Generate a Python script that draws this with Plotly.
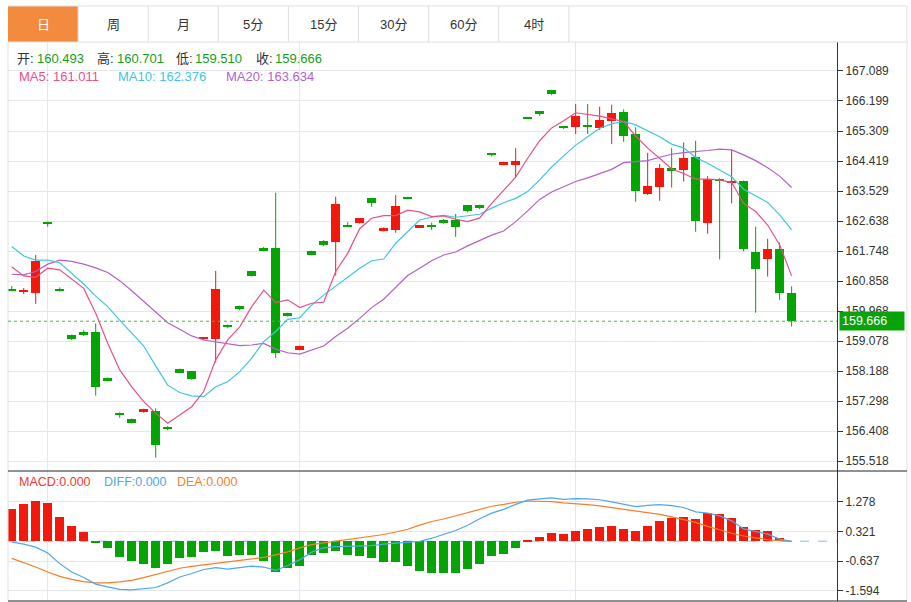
import plotly.graph_objects as go

# ---------------- data ----------------
opens = [160.60, 160.52, 160.51, 162.60, 160.62, 159.26, 159.35, 159.35, 157.97, 156.94,
         156.77, 156.97, 157.01, 156.53, 158.25, 158.18, 159.13, 159.13, 159.56, 160.12,
         161.15, 161.85, 161.84, 159.91, 158.81, 161.75, 162.06, 162.03, 162.52, 162.59,
         163.31, 162.37, 162.37, 163.35, 162.44, 162.52, 162.68, 162.67, 163.11, 163.11,
         164.65, 164.30, 164.29, 165.72, 165.89, 166.53, 165.46, 165.44, 165.46, 165.39,
         165.61, 165.86, 165.21, 163.45, 163.66, 164.20, 164.15, 164.53, 162.59, 163.89,
         163.77, 163.84, 161.73, 161.50, 161.80, 160.493]
highs = [160.71, 160.65, 161.63, 162.62, 160.67, 159.27, 159.40, 159.60, 158.00, 156.96,
         156.78, 157.07, 157.08, 156.55, 158.26, 158.19, 159.20, 161.16, 159.57, 160.13,
         161.16, 161.87, 163.48, 159.92, 158.94, 161.76, 162.07, 163.36, 162.60, 162.73,
         163.32, 162.45, 163.41, 163.36, 162.52, 162.59, 162.70, 162.85, 163.11, 163.12,
         164.65, 164.40, 164.80, 165.73, 165.90, 166.53, 165.46, 166.11, 166.11, 166.03,
         166.09, 165.95, 165.42, 164.66, 164.33, 164.80, 164.97, 165.02, 163.97, 163.91,
         164.75, 163.84, 162.47, 162.11, 162.00, 160.701]
lows = [160.56, 160.47, 160.18, 162.47, 160.55, 159.11, 159.23, 157.46, 157.89, 156.80,
        156.64, 156.95, 155.62, 156.43, 158.13, 157.93, 159.10, 158.44, 159.46, 159.99,
        160.99, 161.74, 158.57, 159.80, 158.80, 161.62, 161.89, 161.02, 162.47, 162.56,
        163.06, 162.33, 162.29, 163.29, 162.43, 162.37, 162.56, 162.17, 162.90, 162.99,
        164.56, 164.29, 163.94, 165.67, 165.76, 166.37, 165.37, 165.22, 165.22, 165.34,
        164.92, 164.99, 163.21, 163.41, 163.24, 163.63, 163.81, 162.32, 162.26, 161.50,
        163.16, 161.74, 159.92, 160.99, 160.30, 159.510]
closes = [160.58, 160.59, 161.46, 162.58, 160.60, 159.15, 159.26, 157.72, 157.92, 156.87,
          156.66, 157.05, 155.99, 156.47, 158.14, 157.94, 159.19, 160.63, 159.50, 160.02,
          161.01, 161.75, 158.72, 159.83, 158.92, 161.64, 161.93, 163.14, 162.48, 162.72,
          163.16, 162.42, 163.08, 163.30, 162.51, 162.45, 162.59, 162.46, 162.95, 163.03,
          164.59, 164.38, 164.41, 165.68, 165.81, 166.42, 165.42, 165.75, 165.44, 165.64,
          165.83, 165.17, 163.54, 163.68, 164.20, 164.15, 164.51, 162.65, 163.89, 163.82,
          163.82, 161.82, 161.21, 161.80, 160.51, 159.666]

ma5 = [161.28, 161.01, 160.97, 161.24, 161.19, 160.91, 160.64, 159.90, 159.01, 158.22,
       157.72, 157.28, 156.94, 156.64, 156.88, 157.13, 157.58, 158.52, 159.11, 159.50,
       160.10, 160.59, 160.22, 160.30, 160.07, 160.20, 160.23, 161.14, 161.68, 162.41,
       162.72, 162.80, 162.80, 162.96, 162.91, 162.77, 162.79, 162.69, 162.62, 162.73,
       163.16, 163.56, 163.94, 164.50, 165.02, 165.40, 165.61, 165.85, 165.81, 165.75,
       165.67, 165.59, 165.16, 164.80, 164.50, 164.18, 164.05, 163.88, 163.88, 163.86,
       163.78, 163.16, 162.92, 162.52, 161.93, 161.011]
ma10 = [161.88, 161.60, 161.48, 161.48, 161.40, 161.09, 160.77, 160.41, 160.10, 159.70,
        159.31, 158.93, 158.34, 157.77, 157.55, 157.45, 157.43, 157.72, 157.87, 158.17,
        158.57, 159.06, 159.36, 159.72, 159.77, 160.15, 160.44, 160.71, 160.99, 161.24,
        161.46, 161.51, 161.98, 162.32, 162.67, 162.75, 162.81, 162.75, 162.80, 162.84,
        163.02, 163.18, 163.31, 163.51, 163.86, 164.24, 164.57, 164.89, 165.14, 165.39,
        165.52, 165.59, 165.49, 165.31, 165.14, 164.92, 164.81, 164.52, 164.35, 164.15,
        163.95, 163.58, 163.39, 163.19, 162.82, 162.376]
ma20 = [161.06, 161.04, 161.14, 161.36, 161.48, 161.44, 161.36, 161.25, 161.11, 160.87,
        160.57, 160.25, 159.92, 159.62, 159.43, 159.23, 159.11, 159.06, 158.99, 158.94,
        158.96, 159.01, 158.84, 158.73, 158.69, 158.81, 158.93, 159.21, 159.46, 159.75,
        160.07, 160.32, 160.67, 161.02, 161.24, 161.46, 161.63, 161.72, 161.90, 162.06,
        162.22, 162.34, 162.62, 162.94, 163.28, 163.50, 163.65, 163.81, 163.92, 164.05,
        164.17, 164.37, 164.40, 164.43, 164.53, 164.62, 164.67, 164.69, 164.73, 164.77,
        164.75, 164.60, 164.43, 164.22, 163.97, 163.634]

macd = [1.05, 1.19, 1.30, 1.22, 0.80, 0.49, 0.29, -0.06, -0.23, -0.51,
        -0.64, -0.73, -0.85, -0.72, -0.54, -0.51, -0.35, -0.30, -0.46, -0.44,
        -0.45, -0.62, -0.99, -0.85, -0.80, -0.43, -0.37, -0.32, -0.45, -0.47,
        -0.53, -0.66, -0.68, -0.80, -0.97, -1.02, -1.03, -1.01, -0.89, -0.73,
        -0.49, -0.40, -0.22, 0.04, 0.15, 0.26, 0.22, 0.34, 0.39, 0.47,
        0.48, 0.40, 0.32, 0.49, 0.66, 0.74, 0.80, 0.72, 0.91, 0.88,
        0.76, 0.47, 0.37, 0.34, 0.12, 0.0]
diff = [-0.02, -0.09, -0.19, -0.38, -0.72, -0.99, -1.17, -1.38, -1.47, -1.55,
        -1.57, -1.54, -1.49, -1.34, -1.15, -1.04, -0.91, -0.85, -0.90, -0.85,
        -0.80, -0.83, -0.94, -0.78, -0.60, -0.35, -0.21, -0.17, -0.16, -0.15,
        -0.14, -0.09, -0.06, -0.03, 0.00, 0.10, 0.23, 0.35, 0.52, 0.73,
        0.91, 1.03, 1.19, 1.33, 1.37, 1.40, 1.35, 1.38, 1.37, 1.34,
        1.27, 1.19, 1.12, 1.16, 1.18, 1.15, 1.09, 0.95, 0.91, 0.82,
        0.66, 0.40, 0.31, 0.23, 0.07, 0.0]
dea = [-0.55, -0.68, -0.83, -0.99, -1.13, -1.23, -1.30, -1.34, -1.34, -1.31,
       -1.26, -1.17, -1.07, -0.97, -0.87, -0.81, -0.76, -0.71, -0.67, -0.63,
       -0.57, -0.52, -0.44, -0.34, -0.21, -0.11, -0.05, 0.00, 0.05, 0.11,
       0.16, 0.22, 0.30, 0.39, 0.52, 0.64, 0.72, 0.82, 0.93, 1.03,
       1.13, 1.19, 1.26, 1.30, 1.29, 1.28, 1.24, 1.22, 1.18, 1.14,
       1.09, 1.03, 0.98, 0.94, 0.87, 0.79, 0.70, 0.61, 0.48, 0.36,
       0.26, 0.17, 0.10, 0.05, 0.02, 0.0]

price_ticks = [155.518, 156.408, 157.298, 158.188, 159.078, 159.968, 160.858,
               161.748, 162.638, 163.529, 164.419, 165.309, 166.199, 167.089]
macd_ticks = [-1.594, -0.637, 0.321, 1.278]
tabs = ["日", "周", "月", "5分", "15分", "30分", "60分", "4时"]
last_price = 159.666

# ---------------- styling ----------------
RED = "#f2180c"
GREEN = "#04a404"
GRID = "#e3e8ee"
FONT = "Liberation Sans, Noto Sans CJK SC, sans-serif"

W, H = 911, 602
ML, MR, MT, MB = 8, 74, 42, 1
PW = W - ML - MR
PH = H - MT - MB


def px(x):
    return (x - ML) / PW


def py(y):
    return (H - MB - y) / PH


split = py(471)
idx = list(range(len(closes)))

up = [c >= o for o, c in zip(opens, closes)]
cols = [RED if u else GREEN for u in up]
body_h = [max(abs(c - o), 0.045) for o, c in zip(opens, closes)]
body_base = [(o + c) / 2 - h / 2 for o, c, h in zip(opens, closes, body_h)]

fig = go.Figure()

# wicks
for colr, flag in ((RED, True), (GREEN, False)):
    wx, wy = [], []
    for i in idx:
        if up[i] == flag:
            wx += [i, i, None]
            wy += [lows[i], highs[i], None]
    fig.add_trace(go.Scatter(x=wx, y=wy, mode="lines", line=dict(color=colr, width=1),
                             hoverinfo="skip", xaxis="x", yaxis="y"))

# bodies
fig.add_trace(go.Bar(x=idx, y=body_h, base=body_base, width=0.75,
                     marker=dict(color=cols, line=dict(width=0)), xaxis="x", yaxis="y"))

# moving averages
for arr, colr in ((ma20, "#b55fce"), (ma10, "#3ec6e2"), (ma5, "#ec4f86")):
    fig.add_trace(go.Scatter(x=idx, y=arr, mode="lines", line=dict(color=colr, width=1.2),
                             xaxis="x", yaxis="y"))

# MACD
mcols = [RED if v >= 0 else GREEN for v in macd]
fig.add_trace(go.Bar(x=idx, y=macd, width=0.75, marker=dict(color=mcols, line=dict(width=0)),
                     xaxis="x2", yaxis="y2"))
fig.add_trace(go.Scatter(x=idx, y=dea, mode="lines", line=dict(color="#f57f26", width=1.2),
                         xaxis="x2", yaxis="y2"))
fig.add_trace(go.Scatter(x=idx, y=diff, mode="lines", line=dict(color="#4ea7ef", width=1.2),
                         xaxis="x2", yaxis="y2"))

xr = [-0.31, 68.78]
common_x = dict(range=xr, showticklabels=False, tickvals=[3, 24, 47], showgrid=True,
                gridcolor=GRID, zeroline=False, showline=False, ticks="", fixedrange=True)

shapes = []
# tab bar
shapes.append(dict(type="rect", xref="paper", yref="paper", x0=px(8), x1=px(78.1),
                   y0=py(42), y1=py(6), fillcolor="#f28b3e", line=dict(width=0), layer="above"))
for k in range(1, 9):
    xb = 8 + 70.1 * k
    shapes.append(dict(type="line", xref="paper", yref="paper", x0=px(xb), x1=px(xb),
                       y0=py(42), y1=py(6), line=dict(color="#dcdfe4", width=1)))
shapes.append(dict(type="line", xref="paper", yref="paper", x0=px(8), x1=px(907),
                   y0=py(6), y1=py(6), line=dict(color="#dcdfe4", width=1)))
shapes.append(dict(type="line", xref="paper", yref="paper", x0=px(8), x1=px(907),
                   y0=py(42), y1=py(42), line=dict(color="#dcdfe4", width=1)))
# frame
shapes.append(dict(type="line", xref="paper", yref="paper", x0=px(907), x1=px(907),
                   y0=py(601), y1=py(6), line=dict(color="#dcdfe4", width=1)))
shapes.append(dict(type="line", xref="paper", yref="paper", x0=px(8), x1=px(8),
                   y0=py(601), y1=py(42), line=dict(color="#dcdfe4", width=1)))
shapes.append(dict(type="line", xref="paper", yref="paper", x0=px(8), x1=px(907),
                   y0=py(471), y1=py(471), line=dict(color="#222222", width=1)))
shapes.append(dict(type="line", xref="paper", yref="paper", x0=px(8), x1=px(907),
                   y0=py(601), y1=py(601), line=dict(color="#222222", width=1)))
# last price dotted line
shapes.append(dict(type="line", xref="paper", yref="y", x0=0, x1=1, y0=last_price,
                   y1=last_price, line=dict(color="#3dbb3d", width=1, dash="dot")))
# MACD zero line
shapes.append(dict(type="line", xref="paper", yref="y2", x0=0, x1=1, y0=0, y1=0,
                   line=dict(color="#a9d6ef", width=1.5, dash="dash"), layer="below"))

ann = []
for k, t in enumerate(tabs):
    ann.append(dict(text=t, xref="paper", yref="paper", x=px(8 + 70.1 * (k + 0.5)), y=py(24.5),
                    showarrow=False, xanchor="center", yanchor="middle",
                    font=dict(size=13, color="#ffffff" if k == 0 else "#333333")))


def label(text, x, y, color, size=13):
    ann.append(dict(text=text, xref="paper", yref="paper", x=px(x), y=py(y), showarrow=False,
                    xanchor="left", yanchor="middle", borderpad=0,
                    font=dict(size=size, color=color)))


label("开:", 16, 59, "#333333")
label(f"{opens[-1]:.3f}", 36, 59, "#16a016")
label("高:", 96, 59, "#333333")
label(f"{highs[-1]:.3f}", 116, 59, "#16a016")
label("低:", 175, 59, "#333333")
label(f"{lows[-1]:.3f}", 194, 59, "#16a016")
label("收:", 255, 59, "#333333")
label(f"{closes[-1]:.3f}", 274, 59, "#16a016")
label(f"MA5: {ma5[-1]:.3f}", 18, 77, "#ec4f86")
label(f"MA10: {ma10[-1]:.3f}", 117, 77, "#3ec6e2")
label(f"MA20: {ma20[-1]:.3f}", 225, 77, "#b55fce")
label(f"MACD:{macd[-1]:.3f}", 18, 482, "#f03a30", 12.5)
label(f"DIFF:{diff[-1]:.3f}", 103, 482, "#4ea7ef", 12.5)
label(f"DEA:{dea[-1]:.3f}", 176, 482, "#f57f26", 12.5)

ann.append(dict(text=f"{last_price:.3f}", xref="paper", yref="y", x=1, y=last_price,
                xshift=2, xanchor="left", yanchor="middle", showarrow=False,
                bgcolor="#08a308", width=60, height=14, borderpad=2, align="left",
                font=dict(size=12.5, color="#ffffff")))

fig.update_layout(
    width=W, height=H, margin=dict(l=ML, r=MR, t=MT, b=MB, pad=0),
    paper_bgcolor="#ffffff", plot_bgcolor="#ffffff",
    showlegend=False, barmode="overlay", bargap=0,
    font=dict(family=FONT, color="#333333"),
    xaxis=dict(domain=[0, 1], anchor="y", **common_x),
    xaxis2=dict(domain=[0, 1], anchor="y2", matches="x", **common_x),
    yaxis=dict(domain=[split, 1], range=[155.223, 167.949], side="right",
               tickvals=price_ticks, ticktext=[f"{v:.3f}" for v in price_ticks],
               showgrid=True, gridcolor=GRID, zeroline=False, showline=True,
               linecolor="#333333", linewidth=1, ticks="outside", ticklen=5,
               tickcolor="#333333", tickfont=dict(size=12, color="#333333"), fixedrange=True),
    yaxis2=dict(domain=[0, split], range=[-1.926, 2.268], side="right",
                tickvals=macd_ticks, ticktext=[f"{v:.3f}" for v in macd_ticks],
                showgrid=True, gridcolor=GRID, zeroline=False, showline=True,
                linecolor="#333333", linewidth=1, ticks="outside", ticklen=5,
                tickcolor="#333333", tickfont=dict(size=12, color="#333333"), fixedrange=True),
    shapes=shapes, annotations=ann,
)

fig.write_html("out.html", config={"displayModeBar": False})
